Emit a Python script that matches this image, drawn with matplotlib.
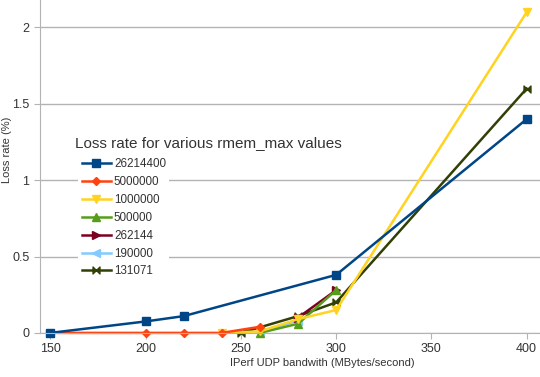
import numpy as np
import matplotlib
matplotlib.use('Agg')
import matplotlib.pyplot as plt
from matplotlib.path import Path
from matplotlib.ticker import FuncFormatter

plt.rcParams['font.family'] = ['Liberation Sans', 'DejaVu Sans']

# ── data ─────────────────────────────────────────────────────────────────
labels = ['26214400', '5000000', '1000000', '500000', '262144', '190000', '131071']

x_26214400 = [150, 200, 220, 300, 400]
y_26214400 = [0.0, 0.075, 0.11, 0.38, 1.4]

x_5000000 = [150, 200, 220, 240, 260]
y_5000000 = [0.0, 0.0, 0.0, 0.0, 0.04]

x_1000000 = [240, 260, 280, 300, 400]
y_1000000 = [0.0, 0.01, 0.09, 0.15, 2.1]

x_500000 = [260, 280, 300]
y_500000 = [0.0, 0.06, 0.28]

x_262144 = [280, 300]
y_262144 = [0.10, 0.28]

x_190000 = [260, 280]
y_190000 = [0.01, 0.08]

x_131071 = [250, 280, 300, 400]
y_131071 = [0.0, 0.11, 0.2, 1.6]

# bowtie marker like the LibreOffice one
bowtie = Path([(-1, 1), (-1, -1), (1, 1), (1, -1), (-1, 1)],
			  [Path.MOVETO, Path.LINETO, Path.LINETO, Path.LINETO, Path.CLOSEPOLY])

series = [
	(x_26214400, y_26214400, '#004586', 's', 5.5),
	(x_5000000, y_5000000, '#ff420e', 'D', 4.5),
	(x_1000000, y_1000000, '#ffd320', 'v', 6),
	(x_500000, y_500000, '#579d1c', '^', 6),
	(x_262144, y_262144, '#7e0021', '>', 6),
	(x_190000, y_190000, '#83caff', '<', 6),
	(x_131071, y_131071, '#314004', bowtie, 5),
]

# ── plot ─────────────────────────────────────────────────────────────────
fig = plt.figure(figsize=(5.4, 3.77), dpi=100)
ax = fig.add_axes([0.074, 0.117, 0.926, 0.883])

# draw back to front so the first series sits on top like the original
for (xs, ys, col, mk, ms), lab in reversed(list(zip(series, labels))):
	ax.plot(xs, ys, color=col, lw=1.8, marker=mk, ms=ms, mew=1,
			mec=col, mfc=col, label=lab, clip_on=False)

ax.set_xlim(144.5, 407)
ax.set_ylim(0, 2.18)
ax.set_xticks([150, 200, 250, 300, 350, 400])
ax.set_yticks([0, 0.5, 1, 1.5, 2])
ax.yaxis.set_major_formatter(FuncFormatter(lambda v, p: f'{v:g}'))
ax.grid(axis='y', color='#b3b3b3', lw=1)
ax.set_axisbelow(True)
for s in ('top', 'right'):
	ax.spines[s].set_visible(False)
for s in ('left', 'bottom'):
	ax.spines[s].set_color('#b3b3b3')
ax.tick_params(colors='#b3b3b3', labelcolor='#333333', labelsize=9, length=4)
ax.set_xlabel('IPerf UDP bandwith (MBytes/second)', fontsize=8, color='#333333')
ax.xaxis.set_label_coords(0.564, -0.075)
ax.set_ylabel('Loss rate (%)', fontsize=8, color='#333333')
ax.yaxis.set_label_coords(-0.055, 0.55)

fig.text(0.139, 0.62, 'Loss rate for various rmem_max values', fontsize=11,
		 color='#333333', va='center', ha='left')

handles, labs = ax.get_legend_handles_labels()
order = [labs.index(l) for l in labels]
leg = ax.legend([handles[i] for i in order], [labs[i] for i in order],
				loc='upper left', bbox_to_anchor=(0.145, 0.589), bbox_transform=fig.transFigure,
				fontsize=8.4, frameon=True, fancybox=False,
				edgecolor='none', facecolor='white', framealpha=1,
				handlelength=2.5, handletextpad=0.25, labelspacing=0.5,
				borderpad=0.3, borderaxespad=0)
for t in leg.get_texts():
	t.set_color('#333333')

plt.savefig('out.png', dpi=100)
